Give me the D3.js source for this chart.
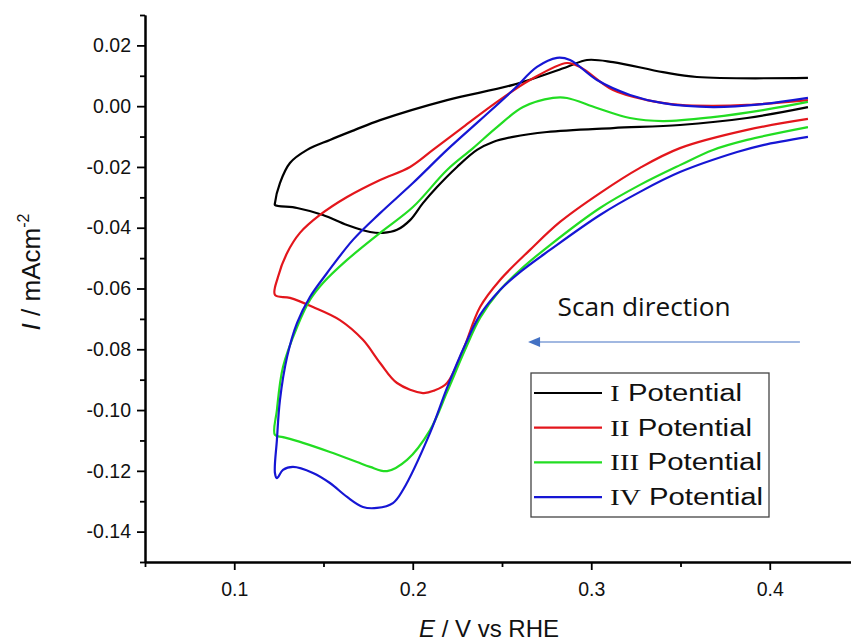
<!DOCTYPE html>
<html>
<head>
<meta charset="utf-8">
<script src="https://cdn.jsdelivr.net/npm/d3@7"></script>
<style>
  body { margin: 0; background: #fff; }
  svg { display: block; }
</style>
</head>
<body>
<script>
// CV loops, [E (V vs RHE), I (mA cm-2)] : cathodic branch right->left, then anodic back
const loopI = [
  [0.4214,-0.0003],[0.3873,-0.0039],[0.3497,-0.0062],[0.3122,-0.0072],[0.2752,-0.0085],
  [0.2562,-0.0101],[0.2450,-0.0118],[0.2360,-0.0144],[0.2248,-0.0200],[0.2136,-0.0266],
  [0.2057,-0.0319],[0.1985,-0.0375],[0.1912,-0.0407],[0.1833,-0.0417],[0.1761,-0.0414],
  [0.1632,-0.0391],[0.1497,-0.0358],[0.1352,-0.0335],[0.1228,-0.0325],
  [0.1228,-0.0319],[0.1256,-0.0253],[0.1312,-0.0187],[0.1408,-0.0144],[0.1536,-0.0111],
  [0.1676,-0.0078],[0.1817,-0.0046],[0.2192,0.0020],[0.2562,0.0070],[0.2864,0.0129],
  [0.2976,0.0152],[0.3122,0.0145],[0.3402,0.0112],[0.3592,0.0096],[0.4214,0.0093]
];
const loopII = [
  [0.4214,-0.0042],[0.3873,-0.0078],[0.3497,-0.0138],[0.3273,-0.0203],[0.3049,-0.0286],
  [0.2825,-0.0381],[0.2657,-0.0473],[0.2489,-0.0572],[0.2377,-0.0661],[0.2282,-0.0802],
  [0.2192,-0.0911],[0.2120,-0.0936],[0.2057,-0.0944],[0.1912,-0.0911],[0.1817,-0.0845],
  [0.1721,-0.0769],[0.1592,-0.0704],[0.1441,-0.0661],[0.1312,-0.0631],[0.1228,-0.0621],
  [0.1245,-0.0562],[0.1296,-0.0483],[0.1368,-0.0417],[0.1480,-0.0358],[0.1632,-0.0299],
  [0.1817,-0.0243],[0.1985,-0.0200],[0.2113,-0.0144],[0.2282,-0.0069],[0.2472,0.0014],
  [0.2657,0.0086],[0.2864,0.0142],[0.2937,0.0129],[0.3122,0.0053],[0.3312,0.0020],
  [0.3497,0.0004],[0.3682,0.0001],[0.3873,0.0004],[0.4214,0.0020]
];
const loopIII = [
  [0.4214,-0.0069],[0.3873,-0.0111],[0.3682,-0.0144],[0.3497,-0.0194],[0.3273,-0.0259],
  [0.3049,-0.0335],[0.2769,-0.0457],[0.2601,-0.0539],[0.2489,-0.0605],[0.2377,-0.0697],
  [0.2293,-0.0802],[0.2192,-0.0941],[0.2097,-0.1066],[0.1968,-0.1164],[0.1856,-0.1201],
  [0.1761,-0.1187],[0.1688,-0.1171],[0.1536,-0.1138],[0.1385,-0.1108],[0.1273,-0.1089],
  [0.1228,-0.1082],
  [0.1239,-0.1000],[0.1273,-0.0858],[0.1352,-0.0727],[0.1424,-0.0638],[0.1497,-0.0582],
  [0.1632,-0.0506],[0.1817,-0.0417],[0.2001,-0.0332],[0.2192,-0.0210],[0.2338,-0.0138],
  [0.2472,-0.0069],[0.2618,-0.0003],[0.2786,0.0027],[0.2864,0.0027],[0.3032,-0.0006],
  [0.3217,-0.0039],[0.3402,-0.0049],[0.3682,-0.0036],[0.3962,-0.0013],[0.4214,0.0014]
];
const loopIV = [
  [0.4214,-0.0101],[0.3962,-0.0128],[0.3817,-0.0151],[0.3497,-0.0217],[0.3273,-0.0282],
  [0.3049,-0.0358],[0.2769,-0.0473],[0.2601,-0.0546],[0.2489,-0.0605],[0.2377,-0.0687],
  [0.2293,-0.0786],[0.2192,-0.0927],[0.2097,-0.1075],[0.1945,-0.1263],[0.1889,-0.1306],
  [0.1800,-0.1322],[0.1721,-0.1319],[0.1632,-0.1286],[0.1536,-0.1240],[0.1441,-0.1207],
  [0.1329,-0.1187],[0.1273,-0.1197],[0.1239,-0.1224],[0.1228,-0.1207],
  [0.1239,-0.1098],[0.1256,-0.0967],[0.1296,-0.0825],[0.1352,-0.0713],[0.1424,-0.0628],
  [0.1520,-0.0549],[0.1665,-0.0440],[0.1817,-0.0352],[0.2001,-0.0253],[0.2192,-0.0144],
  [0.2377,-0.0046],[0.2562,0.0053],[0.2696,0.0129],[0.2808,0.0159],[0.2881,0.0152],
  [0.3032,0.0086],[0.3217,0.0037],[0.3402,0.0010],[0.3682,-0.0003],[0.3962,0.0007],
  [0.4214,0.0027]
];

const seriesNames = ["I", "II", "III", "IV"];
const seriesColors = ["#000000", "#e3161c", "#22dd22", "#1616d4"];
const loops = [loopI, loopII, loopIII, loopIV];

const xMajor = [0.1, 0.2, 0.3, 0.4];
const xMinor = [0.05, 0.15, 0.25, 0.35, 0.45];
const yMajor = [0.02, 0.00, -0.02, -0.04, -0.06, -0.08, -0.10, -0.12, -0.14];
const yMinor = [0.03, 0.01, -0.01, -0.03, -0.05, -0.07, -0.09, -0.11, -0.13, -0.15];

// set the dimensions and margins of the graph
const margin = {top: 15, left: 145},
  width = 714, height = 547;

const svg = d3.select("body")
  .append("svg")
  .attr("width", 851)
  .attr("height", 642);

const x = d3.scaleLinear().domain([0.05, 0.45]).range([margin.left, margin.left + width]);
const y = d3.scaleLinear().domain([-0.15, 0.03]).range([margin.top + height, margin.top]);

// curves
const line = d3.line()
  .x(d => x(d[0]))
  .y(d => y(d[1]))
  .curve(d3.curveCatmullRom.alpha(0.5));

svg.selectAll("path.cv")
  .data(loops)
  .join("path")
  .attr("class", "cv")
  .attr("d", line)
  .attr("fill", "none")
  .attr("stroke", (d, i) => seriesColors[i])
  .attr("stroke-width", 2.2)
  .attr("stroke-linejoin", "round");

// axes
const fontAx = "'Liberation Sans', Arial, sans-serif";

svg.append("g")
  .attr("transform", `translate(0,${margin.top + height})`)
  .call(d3.axisBottom(x).tickValues(xMajor).tickFormat(d => d.toFixed(1)).tickSize(8).tickSizeOuter(0).tickPadding(12));
svg.append("g")
  .attr("transform", `translate(0,${margin.top + height})`)
  .call(d3.axisBottom(x).tickValues(xMinor).tickFormat("").tickSize(5).tickSizeOuter(0));

svg.append("g")
  .attr("transform", `translate(${margin.left},0)`)
  .call(d3.axisLeft(y).tickValues(yMajor).tickFormat(d => d.toFixed(2)).tickSize(8).tickSizeOuter(0).tickPadding(6));
svg.append("g")
  .attr("transform", `translate(${margin.left},0)`)
  .call(d3.axisLeft(y).tickValues(yMinor).tickFormat("").tickSize(5).tickSizeOuter(0));

svg.selectAll(".domain").attr("stroke", "#000").attr("stroke-width", 2);
svg.selectAll(".tick line").attr("stroke", "#000").attr("stroke-width", 1.8);
svg.selectAll(".tick text")
  .attr("fill", "#111")
  .style("font-family", fontAx)
  .style("font-size", "19.5px");

// axis titles
svg.append("text")
  .attr("x", 489)
  .attr("y", 637)
  .attr("text-anchor", "middle")
  .style("font-family", fontAx)
  .style("font-size", "24px")
  .attr("fill", "#111")
  .html("<tspan font-style='italic'>E</tspan> / V vs RHE");

svg.append("text")
  .attr("transform", "translate(40,272) rotate(-90)")
  .attr("text-anchor", "middle")
  .style("font-family", fontAx)
  .style("font-size", "26px")
  .attr("fill", "#111")
  .html("<tspan font-style='italic'>I</tspan> / mAcm<tspan dy='-11' font-size='16px'>-2</tspan>");

// scan direction annotation
svg.append("text")
  .attr("x", x(0.3296))
  .attr("y", y(-0.0692))
  .attr("text-anchor", "middle")
  .attr("textLength", 173)
  .attr("lengthAdjust", "spacingAndGlyphs")
  .style("font-family", "'Open Sans', sans-serif")
  .style("font-size", "25px")
  .attr("fill", "#111")
  .text("Scan direction");

const ay = y(-0.0776);
svg.append("line")
  .attr("x1", x(0.4169)).attr("x2", x(0.2646) + 8)
  .attr("y1", ay).attr("y2", ay)
  .attr("stroke", "#4472c4")
  .attr("stroke-width", 1.2);
svg.append("path")
  .attr("d", `M${x(0.2646)},${ay} l12,-5 l0,10 z`)
  .attr("fill", "#4472c4");

// legend
const legendWidths = [132, 142, 152, 153];
const legend = svg.append("g").attr("transform", "translate(531,373)");
legend.append("rect")
  .attr("width", 238).attr("height", 144)
  .attr("fill", "#fff")
  .attr("stroke", "#444")
  .attr("stroke-width", 1.3);

const item = legend.selectAll("g.item")
  .data(seriesNames)
  .join("g")
  .attr("class", "item")
  .attr("transform", (d, i) => `translate(0,${20 + i * 34.7})`);

item.append("line")
  .attr("x1", 3).attr("x2", 71)
  .attr("stroke", (d, i) => seriesColors[i])
  .attr("stroke-width", 2.2);

const lt = item.append("text")
  .attr("x", 79)
  .attr("y", 8)
  .attr("fill", "#111")
  .attr("textLength", (d, i) => legendWidths[i])
  .attr("lengthAdjust", "spacingAndGlyphs")
  .style("font-size", "23px");
lt.append("tspan")
  .style("font-family", "'Liberation Serif', 'Times New Roman', serif")
  .text(d => d);
lt.append("tspan")
  .style("font-family", fontAx)
  .text(" Potential");
</script>
</body>
</html>
